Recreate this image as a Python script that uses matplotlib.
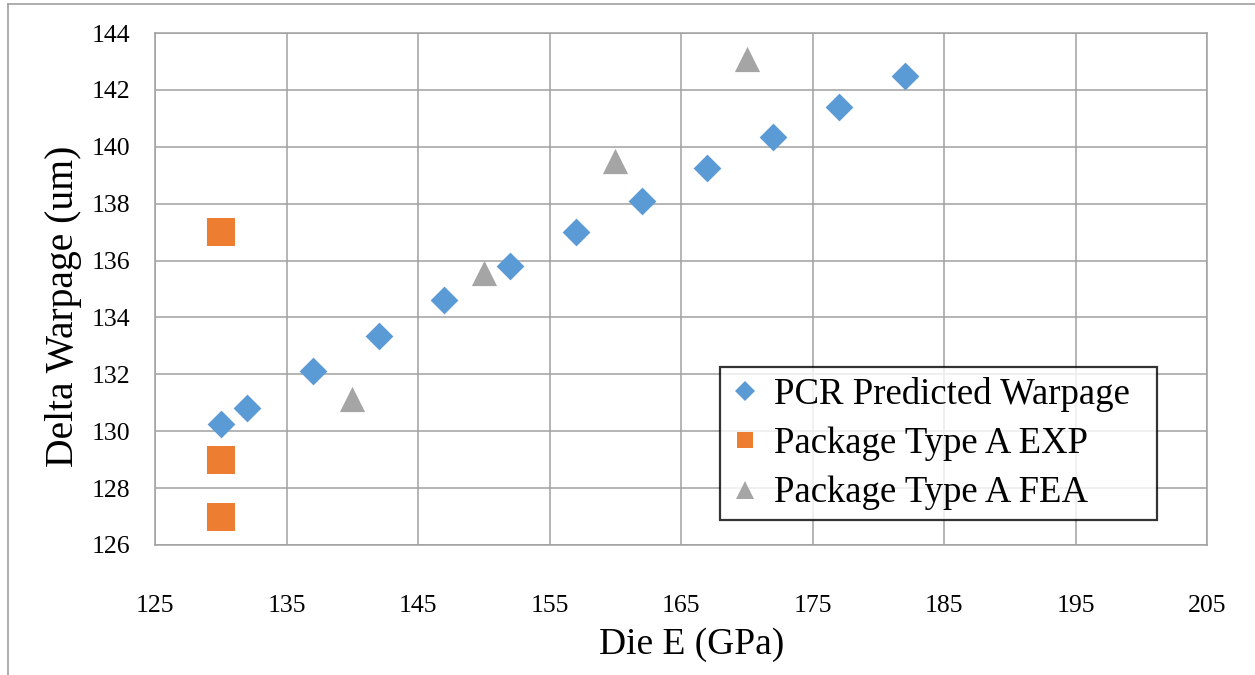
import matplotlib
matplotlib.use("Agg")
import matplotlib.pyplot as plt
from matplotlib.lines import Line2D

plt.rcParams['font.family'] = ['Liberation Serif', 'DejaVu Serif']

# PCR predicted warpage vs die modulus
pcr_x = [130, 132, 137, 142, 147, 152, 157, 162, 167, 172, 177, 182]
pcr_y = [130.25, 130.8, 132.1, 133.35, 134.6, 135.8, 137.0, 138.1, 139.25, 140.35, 141.4, 142.5]

# Experimental measurements
exp_x = [130, 130, 130]
exp_y = [137.0, 129.0, 127.0]

# FEA results
fea_x = [140, 150, 160, 170]
fea_y = [131.15, 135.55, 139.5, 143.1]

x_ticks = [125, 135, 145, 155, 165, 175, 185, 195, 205]
y_ticks = [126, 128, 130, 132, 134, 136, 138, 140, 142, 144]

fig = plt.figure(figsize=(12.55, 6.75), dpi=100)
ax = fig.add_axes([0.1235, 0.1926, 0.8383, 0.7585])

grid_c = '#a0a0a0'
ax.set_xlim(125, 205)
ax.set_ylim(126, 144)
ax.set_xticks(x_ticks)
ax.set_yticks(y_ticks)
ax.grid(True, color=grid_c, linewidth=1.1)
ax.set_axisbelow(True)
for s in ax.spines.values():
    s.set_color(grid_c)
    s.set_linewidth(1.1)
ax.tick_params(length=0, labelsize=18.5)
ax.tick_params(axis='x', pad=36)
ax.tick_params(axis='y', pad=18)

ax.scatter(pcr_x, pcr_y, marker='D', s=200, color='#5B9BD5', linewidths=0,
           label='PCR Predicted Warpage', zorder=3)
ax.scatter(exp_x, exp_y, marker='s', s=380, color='#ED7D31', linewidths=0,
           label='Package Type A EXP', zorder=3)
ax.scatter(fea_x, fea_y, marker='^', s=330, color='#A5A5A5', linewidths=0,
           label='Package Type A FEA', zorder=3)

ax.set_xlabel('Die E (GPa)', fontsize=27)
ax.set_ylabel('Delta Warpage (um)', fontsize=28.5)
ax.xaxis.set_label_coords(0.51, -0.16)
ax.yaxis.set_label_coords(-0.069, 0.467)

handles = [
    Line2D([], [], marker='D', linestyle='none', color='#5B9BD5', markersize=10.5, markeredgewidth=0),
    Line2D([], [], marker='s', linestyle='none', color='#ED7D31', markersize=12, markeredgewidth=0),
    Line2D([], [], marker='^', linestyle='none', color='#A5A5A5', markersize=13, markeredgewidth=0),
]
labels = ['PCR Predicted Warpage', 'Package Type A EXP', 'Package Type A FEA']
leg = ax.legend(handles, labels, loc='lower left',
                bbox_to_anchor=(720 / 1255, 1 - 520 / 675, 437 / 1255, 152 / 675),
                bbox_transform=fig.transFigure, mode='expand',
                fontsize=26.5, frameon=True, fancybox=False, borderaxespad=0,
                handlelength=0.85, handletextpad=0.35, borderpad=0.26,
                labelspacing=0.4)
leg.get_frame().set_edgecolor('black')
leg.get_frame().set_linewidth(1.6)

# outer frame lines of the figure
fig.add_artist(Line2D([8 / 1255, 8 / 1255], [0, 1 - 4 / 675], color='#a0a0a0', linewidth=1.2))
fig.add_artist(Line2D([8 / 1255, 1], [1 - 4 / 675, 1 - 4 / 675], color='#a0a0a0', linewidth=1.2))

fig.savefig('out.png', dpi=100)
